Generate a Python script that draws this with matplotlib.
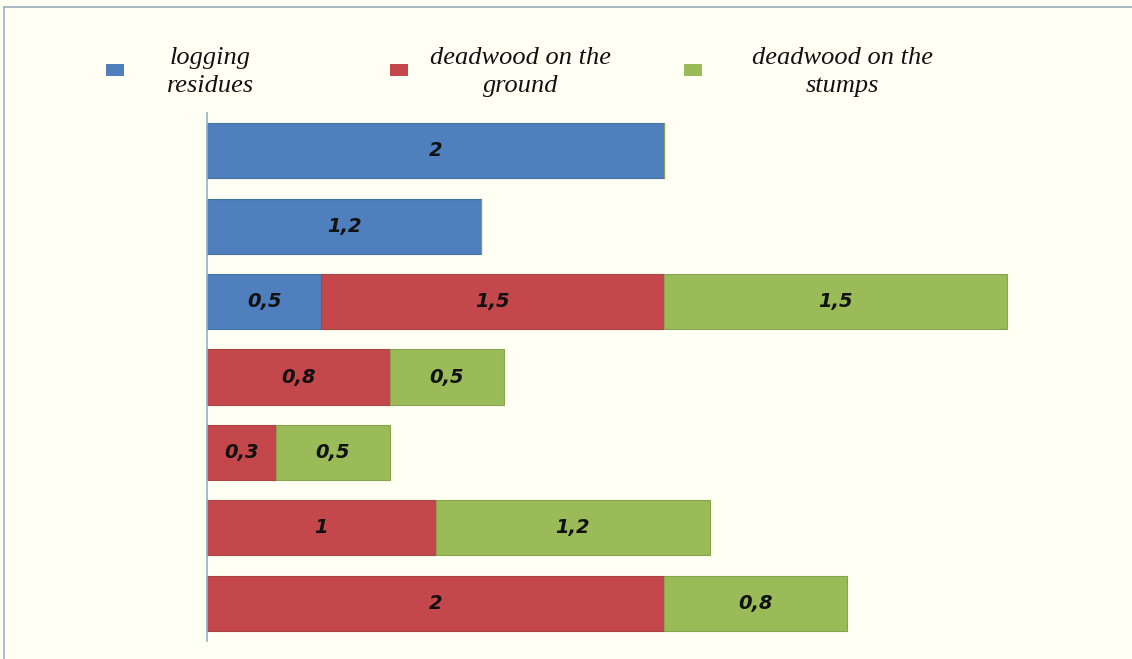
import matplotlib
matplotlib.use("Agg")
import matplotlib.pyplot as plt
from matplotlib.patches import Rectangle
from matplotlib.lines import Line2D
import numpy as np

series_names = ["logging\nresidues", "deadwood on the\nground", "deadwood on the\nstumps"]
colors = ["#4F7FBC", "#C4474B", "#9BBB59"]
edge_colors = ["#46729f", "#a84644", "#88a44e"]
logging_residues = [2, 1.2, 0.5, 0, 0, 0, 0]
deadwood_ground = [0, 0, 1.5, 0.8, 0.3, 1, 2]
deadwood_stumps = [0, 0, 1.5, 0.5, 0.5, 1.2, 0.8]

bg = "#FFFFF4"
fig = plt.figure(figsize=(11.32, 6.59), dpi=100, facecolor=bg)
ax = fig.add_axes([207/1132, 18/659, 914/1132, 528/659])
ax.set_facecolor(bg)

y = np.arange(7)
data = [logging_residues, deadwood_ground, deadwood_stumps]
left = np.zeros(7)
for vals, c, ec in zip(data, colors, edge_colors):
    vals = np.array(vals, dtype=float)
    bars = ax.barh(y, vals, left=left, height=0.73, color=c, edgecolor=ec, linewidth=0.8)
    for b, v in zip(bars, vals):
        if v > 0:
            txt = f"{v:g}".replace(".", ",")
            ax.text(b.get_x() + b.get_width()/2, b.get_y() + b.get_height()/2, txt,
                    ha="center", va="center", fontsize=14, fontweight="bold",
                    fontstyle="italic", color="#111111", family="DejaVu Sans")
    left += vals

ax.set_ylim(6.5, -0.5)
ax.set_xlim(0, 4)
for s in ["top", "right", "bottom"]:
    ax.spines[s].set_visible(False)
ax.spines["left"].set_color("#8fb4c8")
ax.spines["left"].set_linewidth(1.2)
ax.set_xticks([])
ax.set_yticks([])

# legend
marker_x = [115, 399, 693]
text_x = [210, 521, 842]
for name, c, mx, tx in zip(series_names, colors, marker_x, text_x):
    fig.add_artist(Rectangle(((mx - 9)/1132, 1 - 76/659), 18/1132, 12/659,
                             transform=fig.transFigure, facecolor=c, edgecolor="none"))
    fig.text(tx/1132, 1 - 72/659, name, ha="center", va="center", multialignment="center",
             fontsize=19, fontstyle="italic", family="Liberation Serif", color="#111111",
             linespacing=1.3)

# border lines
fig.add_artist(Line2D([4/1132, 1], [1 - 7/659, 1 - 7/659], transform=fig.transFigure,
                      color="#9aaebb", linewidth=1.2))
fig.add_artist(Line2D([4/1132, 4/1132], [0, 1 - 7/659], transform=fig.transFigure,
                      color="#9ab8c8", linewidth=1.2))

fig.savefig("out.png", dpi=100, facecolor=bg)
